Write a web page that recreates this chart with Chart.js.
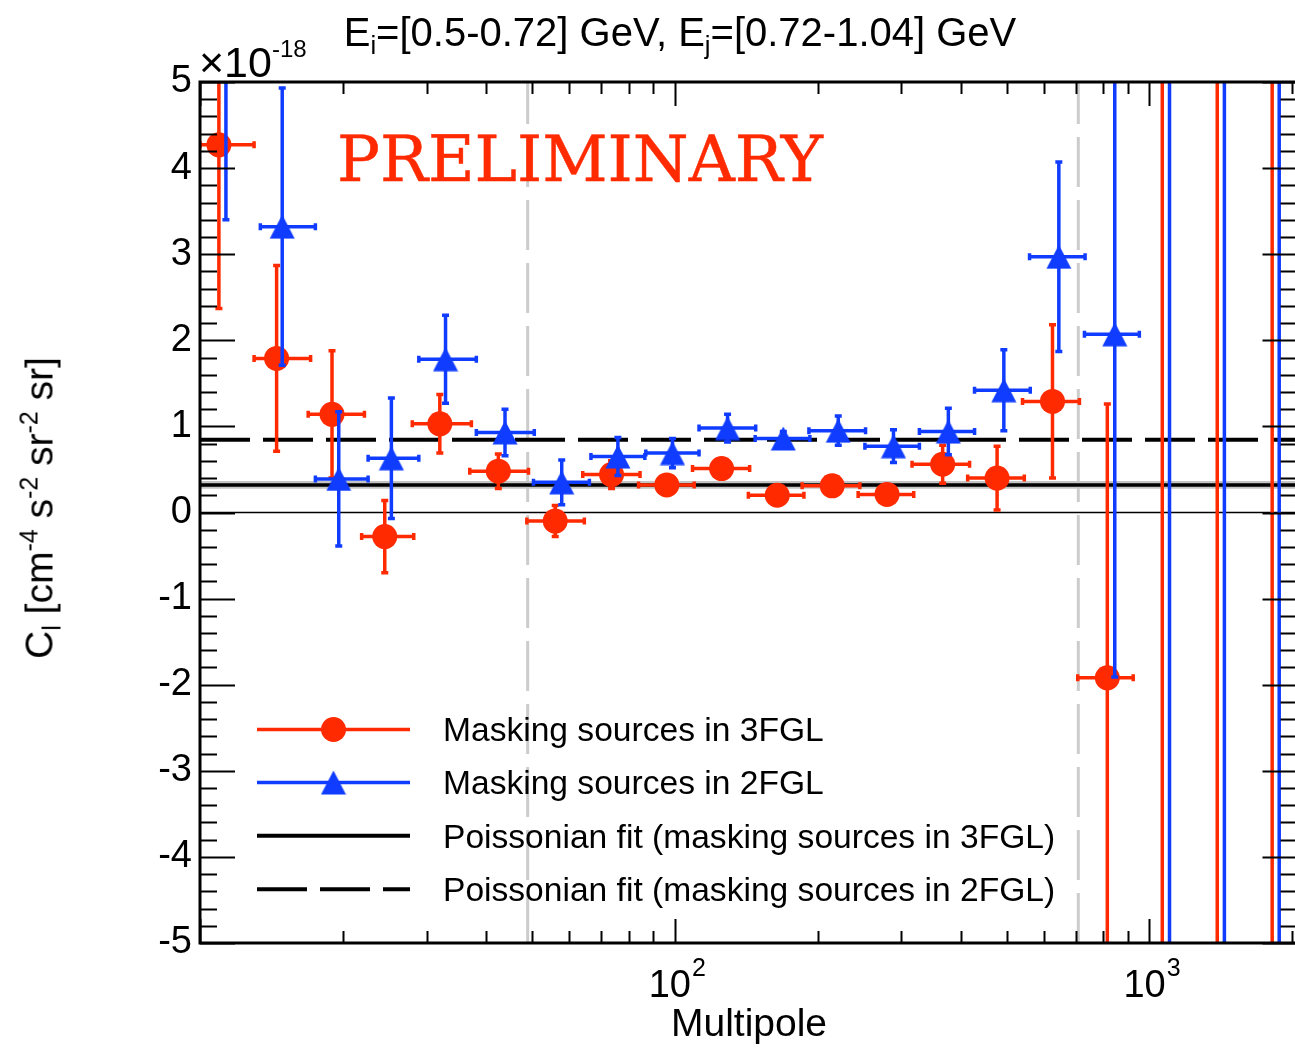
<!DOCTYPE html>
<html>
<head>
<meta charset="utf-8">
<title>Cross-correlation APS</title>
<script src="https://cdn.jsdelivr.net/npm/chart.js@4.4.1/dist/chart.umd.min.js"></script>
<style>
  html, body { margin: 0; padding: 0; background: #fff; overflow: hidden; }
  body { width: 1295px; height: 1049px; position: relative; font-family: "Liberation Sans", Arial, sans-serif; color: #000; }
  #plot { position: absolute; left: 0; top: 0; }
  .lbl { position: absolute; white-space: nowrap; line-height: 1; }
  .lbl sub, .lbl sup { font-size: 0.64em; line-height: 0; position: relative; vertical-align: baseline; }
  .lbl sub { top: 0.32em; }
  .lbl sup { top: -0.62em; }
  #expo sup { font-size: 0.56em; top: -0.85em; }
  #prelim { font-family: "DejaVu Serif", "Liberation Serif", serif; color: #ff2a00; transform-origin: 0 0; -webkit-text-stroke: 0.5px #ff2a00; }
</style>
</head>
<body>
<canvas id="plot" width="1310" height="1049"></canvas>

<div class="lbl" id="title" style="left:680px; top:12px; font-size:40px; transform:translateX(-50%)">E<sub>i</sub>=[0.5-0.72] GeV, E<sub>j</sub>=[0.72-1.04] GeV</div>
<div class="lbl" id="ytitle" style="left:39px; top:508px; font-size:39px; transform:translate(-50%,-50%) rotate(-90deg)">C<sub>l</sub> [cm<sup>-4</sup> s<sup>-2</sup> sr<sup>-2</sup> sr]</div>
<div class="lbl" id="xtitle" style="left:749px; top:1003px; font-size:39px; transform:translateX(-50%)">Multipole</div>
<div class="lbl" id="expo" style="left:199px; top:41px; font-size:43px">&times;10<sup>-18</sup></div>
<div class="lbl" id="prelim" style="left:337px; top:128px; font-size:63px">PRELIMINARY</div>
<div id="legend"></div>

<script>
// x range of the multipole axis
const X_MIN = 10;
const X_MAX = 2050;

// C_l in units of 1e-18 cm^-4 s^-2 sr^-2 sr, masking 3FGL sources
const ell3   = [10.96, 14.5, 18.97, 24.5, 32.0, 42.5, 56.0, 73.6, 96.2, 125.5, 164.4, 214.6, 280.0, 366.7, 477.5, 624.7, 815, 1064, 1389, 1813];
const ellLo3 = [10.0, 13.0, 16.9, 21.9, 28.0, 37.0, 48.8, 64.0, 83.9, 109.0, 142.9, 185.5, 243.4, 316.1, 414.0, 540.2, 706, 924, 1208, 1580];
const ellHi3 = [13.0, 17.1, 22.2, 28.2, 37.3, 49.2, 64.5, 84.5, 109.9, 143.8, 187.1, 245.4, 318.7, 417.9, 544.9, 711.9, 924, 1208, 1580, 2066];
const cl3    = [4.27, 1.79, 1.14, -0.28, 1.03, 0.48, -0.10, 0.44, 0.32, 0.51, 0.20, 0.31, 0.21, 0.56, 0.40, 1.29, -1.92, 7.2, -8.5, 9.0];
const err3   = [1.90, 1.08, 0.74, 0.42, 0.34, 0.20, 0.18, 0.16, 0.09, 0.09, 0.09, 0.09, 0.09, 0.22, 0.37, 0.89, 3.18, 20, 24, 28];

// same, masking 2FGL sources
const ell2   = [11.34, 14.9, 19.6, 25.3, 32.9, 43.9, 57.8, 75.9, 98.9, 129.2, 169.3, 221.0, 288.9, 377.0, 493.4, 644.2, 845, 1102, 1438, 1876];
const ellLo2 = [10.3, 13.4, 17.5, 22.6, 28.9, 38.2, 50.4, 66.6, 86.9, 112.5, 147.7, 191.7, 251.5, 327.6, 428.0, 558.9, 729.4, 952, 1245, 1630];
const ellHi2 = [13.4, 17.5, 22.6, 28.9, 38.2, 50.6, 66.1, 86.5, 112.5, 148.1, 192.6, 252.3, 327.6, 428.1, 560.8, 731.7, 952, 1245, 1630, 2130];
const cl2    = [5.6, 3.32, 0.39, 0.63, 1.78, 0.93, 0.35, 0.65, 0.69, 0.98, 0.86, 0.95, 0.77, 0.94, 1.42, 2.97, 2.07, -8.0, 8.5, -9.5];
const err2   = [2.2, 1.61, 0.78, 0.70, 0.51, 0.27, 0.26, 0.22, 0.17, 0.16, 0.08, 0.17, 0.19, 0.27, 0.47, 1.10, 3.98, 25, 26, 30];

// Poissonian (constant) fits
const fit3 = 0.32;
const fit3Band = 0.025;
const fit2 = 0.845;

// multipole range limits of the analysis
const ellCuts = [49, 708];

const yTicks = [-5, -4, -3, -2, -1, 0, 1, 2, 3, 4, 5];
const xTickLabels = [{ v: 100, base: '10', exp: '2' }, { v: 1000, base: '10', exp: '3' }];

const RED = '#ff2a00';
const BLUE = '#0f3cff';
const FONT = '"Liberation Sans", Arial, sans-serif';

// filled triangle marker, centred on its bounding box
function triangleSprite(color) {
  const c = document.createElement('canvas');
  c.width = 26; c.height = 25;
  const g = c.getContext('2d');
  g.fillStyle = color;
  g.beginPath();
  g.moveTo(13, 0.5); g.lineTo(25.5, 24.5); g.lineTo(0.5, 24.5);
  g.closePath(); g.fill();
  return c;
}
const triangle = triangleSprite(BLUE);

const points = (xs, ys) => xs.map((v, i) => ({ x: v, y: ys[i] }));
const hline = (v) => [{ x: X_MIN, y: v }, { x: X_MAX, y: v }];
const vline = (v) => [{ x: v, y: -5 }, { x: v, y: 5 }];

// horizontal bin widths + vertical 1-sigma bars, drawn just under each marker set
const errorBars = {
  id: 'errorBars',
  beforeDatasetDraw(chart, args) {
    const ds = chart.data.datasets[args.index];
    if (!ds.bins) return;
    const { ctx, chartArea: a, scales: { x, y } } = chart;
    const cap = 3.5;
    ctx.save();
    ctx.beginPath();
    ctx.rect(a.left - 1, a.top, a.right - a.left + 2, a.bottom - a.top);
    ctx.clip();
    ctx.strokeStyle = ds.borderColor;
    ctx.lineWidth = 3.5;
    ds.data.forEach((p, i) => {
      const px = x.getPixelForValue(p.x);
      const py = y.getPixelForValue(p.y);
      const x0 = x.getPixelForValue(ds.bins.lo[i]);
      const x1 = x.getPixelForValue(ds.bins.hi[i]);
      const y0 = y.getPixelForValue(p.y - ds.bins.err[i]);
      const y1 = y.getPixelForValue(p.y + ds.bins.err[i]);
      ctx.beginPath();
      ctx.moveTo(x0, py); ctx.lineTo(x1, py);
      ctx.moveTo(px, y0); ctx.lineTo(px, y1);
      ctx.moveTo(x0, py - cap); ctx.lineTo(x0, py + cap);
      ctx.moveTo(x1, py - cap); ctx.lineTo(x1, py + cap);
      ctx.moveTo(px - cap, y0); ctx.lineTo(px + cap, y0);
      ctx.moveTo(px - cap, y1); ctx.lineTo(px + cap, y1);
      ctx.stroke();
    });
    ctx.restore();
  }
};

// box frame with inward ticks on all four sides, plus 10^n labels
const frame = {
  id: 'frame',
  afterDraw(chart) {
    const { ctx, chartArea: a, scales: { x, y } } = chart;
    ctx.save();
    ctx.strokeStyle = '#000';
    ctx.lineWidth = 2;
    ctx.beginPath();
    for (let d = 1; d <= 1000; d *= 10) {
      for (let k = 1; k <= 9; k++) {
        const v = d * k;
        if (v < X_MIN || v > X_MAX) continue;
        const px = Math.round(x.getPixelForValue(v)) + 0.5;
        const len = k === 1 ? 24 : 12;
        ctx.moveTo(px, a.bottom); ctx.lineTo(px, a.bottom - len);
        ctx.moveTo(px, a.top); ctx.lineTo(px, a.top + len);
      }
    }
    for (let t = -25; t <= 25; t++) {
      const v = t / 5;
      const py = Math.round(y.getPixelForValue(v)) + 0.5;
      const len = t % 5 === 0 ? 35 : 17;
      ctx.moveTo(a.left, py); ctx.lineTo(a.left + len, py);
      ctx.moveTo(a.right, py); ctx.lineTo(a.right - len, py);
    }
    ctx.stroke();
    ctx.lineWidth = 3;
    ctx.strokeRect(a.left, a.top, a.right - a.left, a.bottom - a.top);

    ctx.fillStyle = '#000';
    ctx.textBaseline = 'alphabetic';
    ctx.textAlign = 'left';
    xTickLabels.forEach(t => {
      const px = x.getPixelForValue(t.v);
      ctx.font = '38px ' + FONT;
      const w1 = ctx.measureText(t.base).width;
      ctx.font = '25px ' + FONT;
      const w2 = ctx.measureText(t.exp).width;
      const x0 = px - (w1 + w2) / 2 + 2;
      ctx.font = '38px ' + FONT;
      ctx.fillText(t.base, x0, 997);
      ctx.font = '25px ' + FONT;
      ctx.fillText(t.exp, x0 + w1 + 1, 976);
    });
    ctx.restore();
  }
};

// legend: symbol column on the canvas, labels as html text
const legendRows = [
  { ds: 0, y: 729.5 },
  { ds: 1, y: 782.5 },
  { ds: 2, y: 835.8 },
  { ds: 3, y: 889.2 }
];
const legendSymbols = {
  id: 'legendSymbols',
  afterDraw(chart) {
    const ctx = chart.ctx;
    ctx.save();
    legendRows.forEach(r => {
      const ds = chart.data.datasets[r.ds];
      ctx.strokeStyle = ds.borderColor;
      ctx.lineWidth = r.ds < 2 ? 3.5 : 4;
      ctx.setLineDash(ds.borderDash || []);
      ctx.beginPath();
      ctx.moveTo(257, r.y); ctx.lineTo(410, r.y);
      ctx.stroke();
      ctx.setLineDash([]);
      if (ds.pointStyle === 'circle') {
        ctx.fillStyle = ds.backgroundColor;
        ctx.beginPath(); ctx.arc(333.5, r.y, 12.5, 0, Math.PI * 2); ctx.fill();
      } else if (ds.pointStyle === triangle) {
        ctx.drawImage(triangle, 333.5 - triangle.width / 2, r.y - triangle.height / 2);
      }
    });
    ctx.restore();
  }
};

const chart = new Chart(document.getElementById('plot'), {
  type: 'scatter',
  data: {
    datasets: [
      {
        label: 'Masking sources in 3FGL',
        data: points(ell3, cl3),
        bins: { lo: ellLo3, hi: ellHi3, err: err3 },
        backgroundColor: RED, borderColor: RED,
        pointStyle: 'circle', pointRadius: 12.5, pointBorderWidth: 0,
        order: 1
      },
      {
        label: 'Masking sources in 2FGL',
        data: points(ell2, cl2),
        bins: { lo: ellLo2, hi: ellHi2, err: err2 },
        backgroundColor: BLUE, borderColor: BLUE,
        pointStyle: triangle, pointRadius: 12.5, pointBorderWidth: 0,
        order: 0
      },
      {
        label: 'Poissonian fit (masking sources in 3FGL)',
        data: hline(fit3), showLine: true, pointRadius: 0,
        borderColor: '#000', borderWidth: 3.5, order: 2
      },
      {
        label: 'Poissonian fit (masking sources in 2FGL)',
        data: hline(fit2), showLine: true, pointRadius: 0,
        borderColor: '#000', borderWidth: 4, borderDash: [50, 13], order: 3
      },
      {
        label: 'fit uncertainty',
        data: hline(fit3), showLine: true, pointRadius: 0,
        borderColor: '#c4c4c4', borderWidth: 2 * fit3Band * 86 + 3.5, order: 4
      },
      {
        label: 'zero',
        data: hline(0), showLine: true, pointRadius: 0,
        borderColor: '#000', borderWidth: 1.5, order: 5
      },
      {
        label: 'lmin',
        data: vline(ellCuts[0]), showLine: true, pointRadius: 0,
        borderColor: '#cccccc', borderWidth: 3, borderDash: [50, 13], order: 6
      },
      {
        label: 'lmax',
        data: vline(ellCuts[1]), showLine: true, pointRadius: 0,
        borderColor: '#cccccc', borderWidth: 3, borderDash: [50, 13], order: 6
      }
    ]
  },
  options: {
    responsive: false,
    animation: false,
    events: [],
    layout: { padding: { left: 0, right: 10, top: 82, bottom: 0 } },
    plugins: { legend: { display: false }, tooltip: { enabled: false } },
    scales: {
      x: {
        type: 'logarithmic', min: X_MIN, max: X_MAX,
        grid: { display: false, drawTicks: false },
        border: { display: false },
        ticks: { display: false },
        afterFit(s) { s.height = 106; }
      },
      y: {
        type: 'linear', min: -5, max: 5,
        grid: { display: false, drawTicks: false },
        border: { display: false },
        afterBuildTicks(s) { s.ticks = yTicks.map(v => ({ value: v })); },
        ticks: { padding: 8, color: '#000', font: { family: FONT, size: 38 } },
        afterFit(s) { s.width = 200; }
      }
    }
  },
  plugins: [errorBars, frame, legendSymbols]
});

// legend labels
const legendBox = document.getElementById('legend');
legendRows.forEach(r => {
  const el = document.createElement('div');
  el.className = 'lbl';
  el.style.left = '443px';
  el.style.top = (r.y + 12.4 - 0.8465 * 33.6) + 'px';
  el.style.fontSize = '33.6px';
  el.textContent = chart.data.datasets[r.ds].label;
  legendBox.appendChild(el);
});

// stretch the watermark to its box width
const prelim = document.getElementById('prelim');
prelim.style.transform = 'scaleX(' + (486 / prelim.getBoundingClientRect().width) + ')';
</script>
</body>
</html>
